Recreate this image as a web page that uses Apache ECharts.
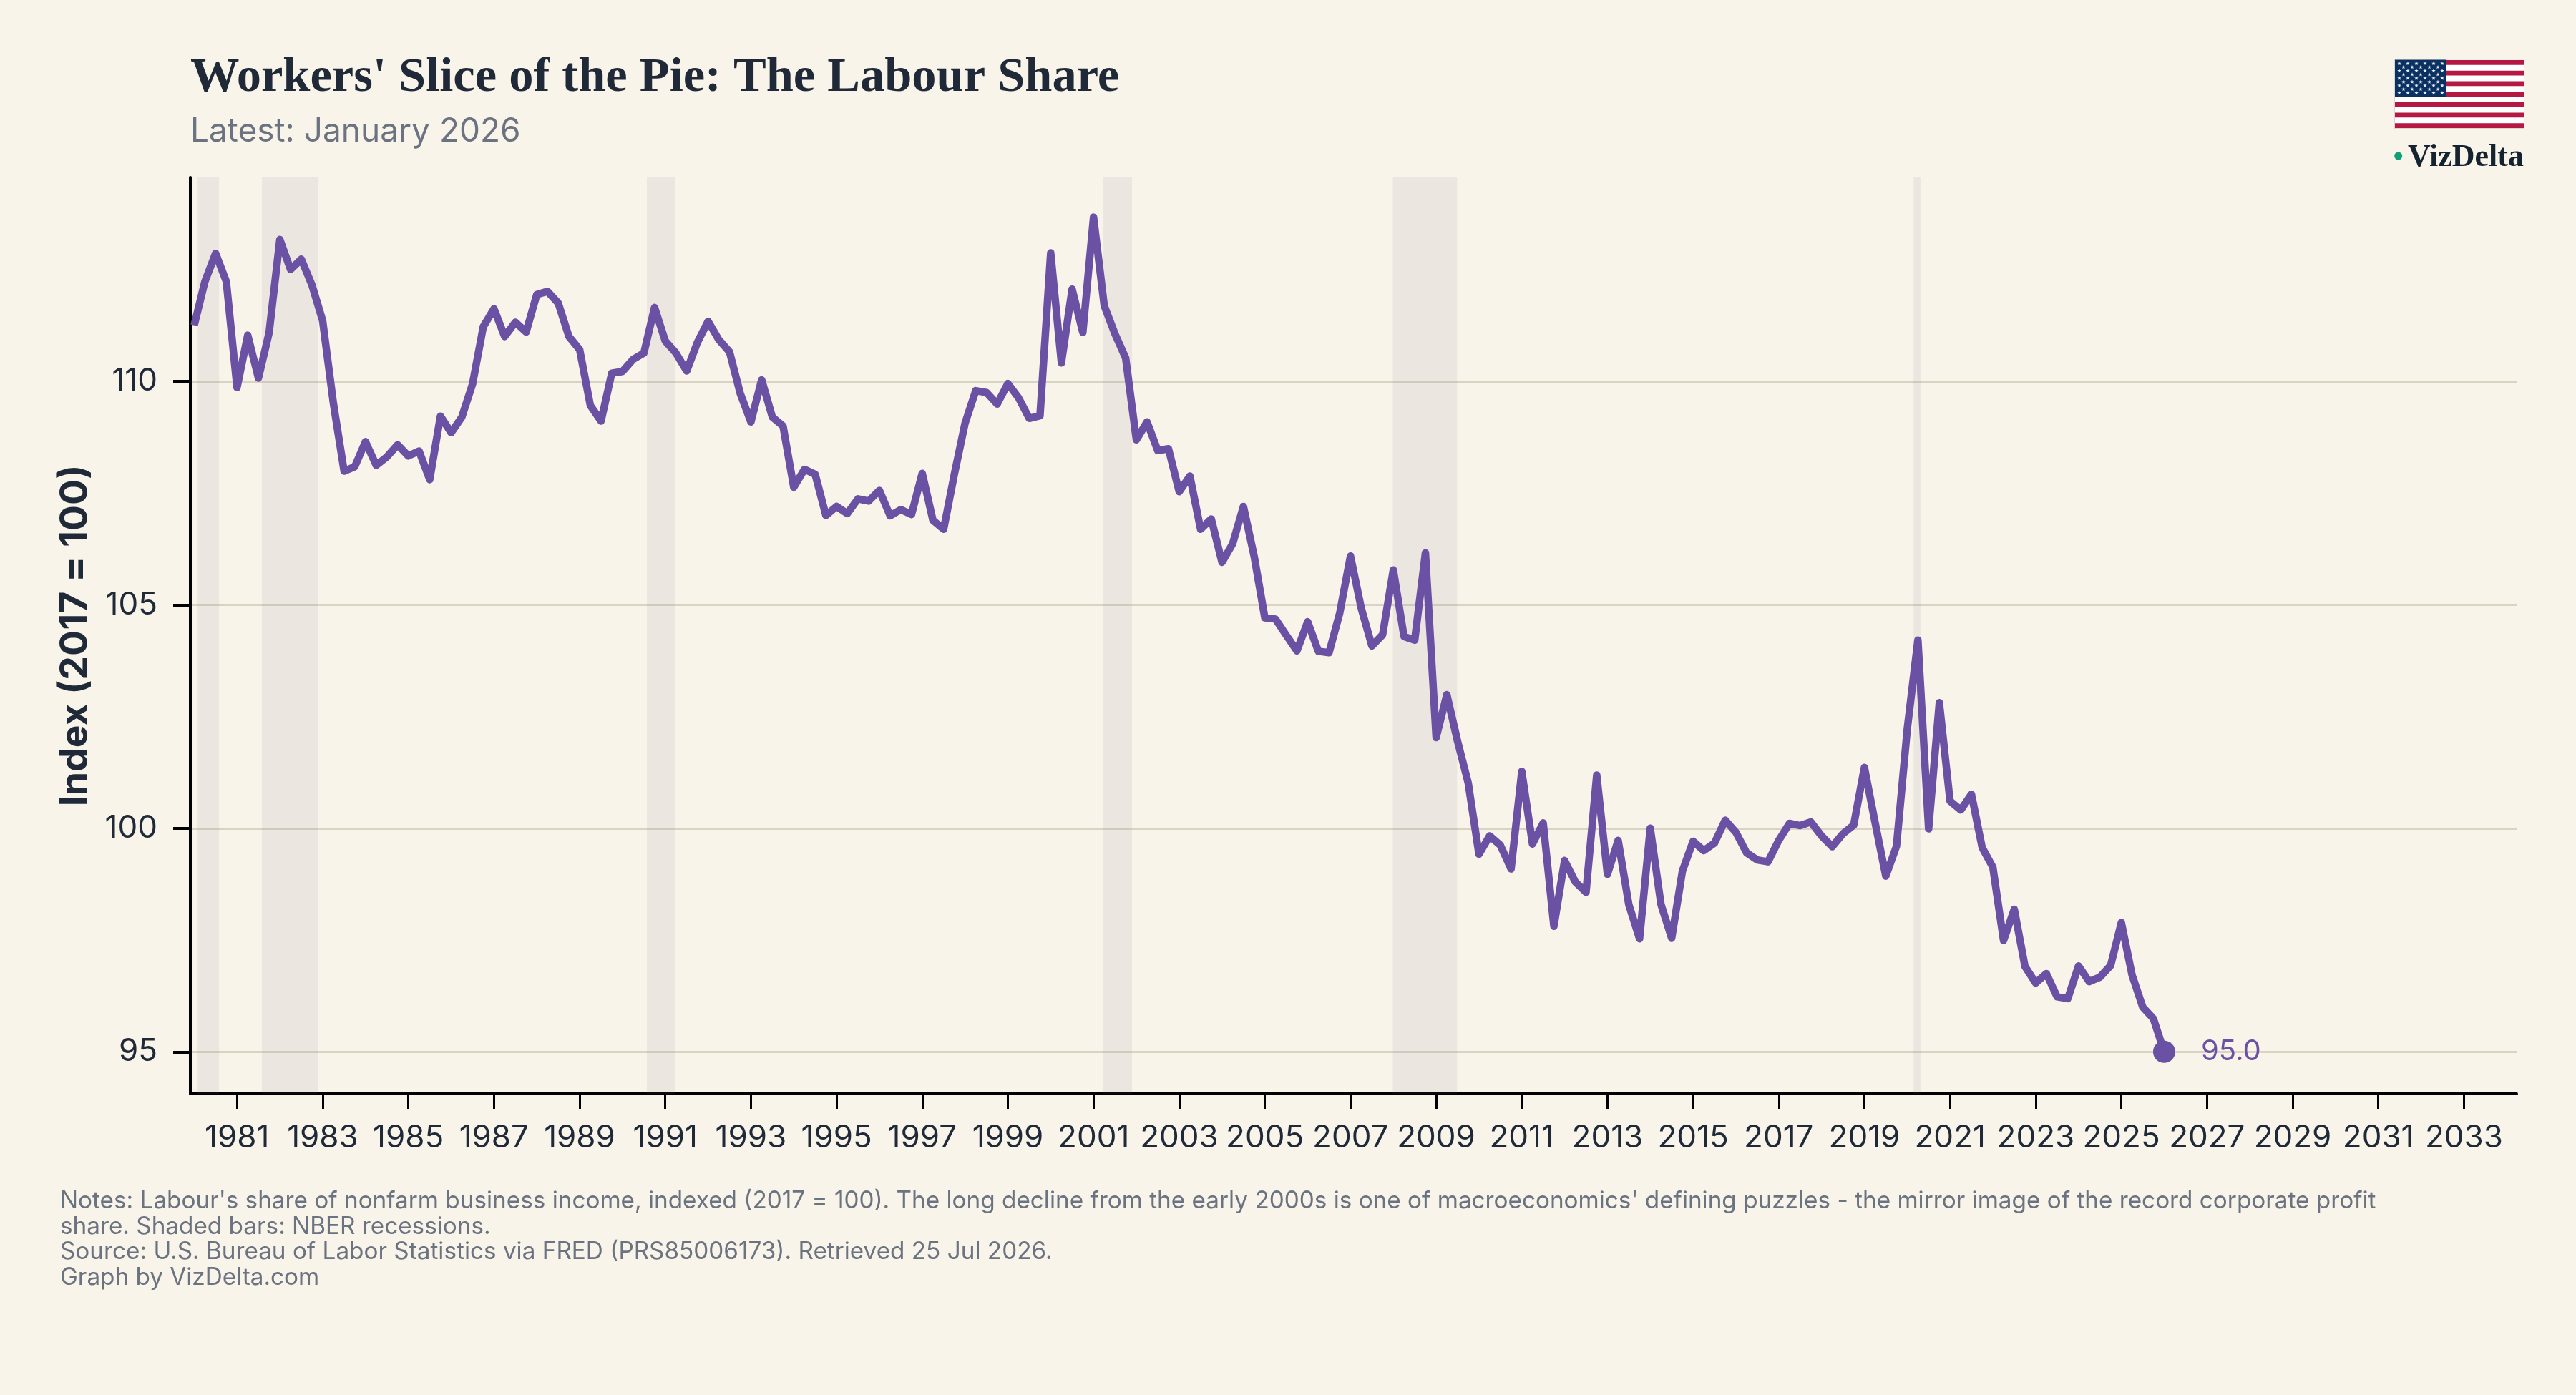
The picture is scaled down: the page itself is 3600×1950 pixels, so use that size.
<!DOCTYPE html>
<html>
<head>
<meta charset="utf-8">
<title>Workers' Slice of the Pie: The Labour Share</title>
<script src="https://cdn.jsdelivr.net/npm/echarts@6/dist/echarts.min.js"></script>
<style>
  html, body { margin: 0; padding: 0; background: #f8f4ea; }
  #chart { width: 3600px; height: 1950px; }
</style>
</head>
<body>
<div id="chart"></div>
<script>
// Nonfarm business labour share, quarterly from 1980 Q1, 2017 = 100
const firstYear = 1980;
const labourShare = [
  111.25, 112.23, 112.86, 112.23, 109.86, 111.03, 110.07, 111.09,
  113.17, 112.50, 112.73, 112.15, 111.35, 109.51, 107.99, 108.09,
  108.65, 108.12, 108.31, 108.58, 108.33, 108.44, 107.80, 109.22,
  108.85, 109.20, 109.94, 111.22, 111.62, 111.00, 111.32, 111.10,
  111.94, 112.01, 111.75, 111.00, 110.71, 109.46, 109.11, 110.18,
  110.22, 110.49, 110.63, 111.65, 110.90, 110.63, 110.23, 110.87,
  111.34, 110.93, 110.66, 109.73, 109.09, 110.03, 109.20, 109.00,
  107.63, 108.03, 107.92, 107.00, 107.20, 107.04, 107.37, 107.32,
  107.56, 106.99, 107.13, 107.02, 107.94, 106.89, 106.69, 107.92,
  109.06, 109.79, 109.75, 109.49, 109.95, 109.63, 109.17, 109.23,
  112.87, 110.41, 112.06, 111.09, 113.67, 111.69, 111.06, 110.52,
  108.69, 109.09, 108.45, 108.49, 107.53, 107.88, 106.69, 106.92,
  105.95, 106.37, 107.20, 106.09, 104.71, 104.68, 104.32, 103.97,
  104.62, 103.96, 103.93, 104.82, 106.09, 104.93, 104.08, 104.33,
  105.78, 104.29, 104.21, 106.16, 102.03, 102.99, 101.95, 101.01,
  99.42, 99.83, 99.62, 99.09, 101.27, 99.65, 100.12, 97.81,
  99.28, 98.80, 98.57, 101.19, 98.97, 99.73, 98.29, 97.53,
  100.00, 98.30, 97.54, 99.04, 99.71, 99.50, 99.67, 100.18,
  99.91, 99.45, 99.29, 99.25, 99.73, 100.11, 100.06, 100.14,
  99.83, 99.59, 99.88, 100.07, 101.36, 100.13, 98.93, 99.60,
  102.21, 104.21, 99.99, 102.81, 100.61, 100.41, 100.76, 99.57,
  99.13, 97.49, 98.19, 96.91, 96.54, 96.75, 96.23, 96.19,
  96.92, 96.57, 96.67, 96.93, 97.89, 96.72, 96.00, 95.74,
  95.00
];

// NBER recession spans, in decimal years
const recessions = [
  [1980.08, 1980.58],
  [1981.58, 1982.89],
  [1990.57, 1991.23],
  [2001.23, 2001.90],
  [2007.99, 2009.49],
  [2020.15, 2020.31]
];

const yearTicks = [
  1981, 1983, 1985, 1987, 1989, 1991, 1993, 1995, 1997, 1999, 2001, 2003, 2005,
  2007, 2009, 2011, 2013, 2015, 2017, 2019, 2021, 2023, 2025, 2027, 2029, 2031, 2033
];
const valueTicks = [95, 100, 105, 110];

const titleText = "Workers' Slice of the Pie: The Labour Share";
const subtitleText = 'Latest: January 2026';
const axisTitle = 'Index (2017 = 100)';
const notesLines = [
  "Notes: Labour's share of nonfarm business income, indexed (2017 = 100). The long decline from the early 2000s is one of macroeconomics' defining puzzles - the mirror image of the record corporate profit",
  'share. Shaded bars: NBER recessions.',
  'Source: U.S. Bureau of Labor Statistics via FRED (PRS85006173). Retrieved 25 Jul 2026.',
  'Graph by VizDelta.com'
];

const PURPLE = '#6a51a3';
const INK = '#1f2937';
const MUTED = '#6b7280';
const SANS = 'Inter';
const SERIF = '"Liberation Serif"';

// Pair each reading with its quarter on the decimal-year axis
const lineData = labourShare.map((v, i) => [firstYear + i / 4, v]);
const latest = lineData[lineData.length - 1];

// Flag mark: thirteen stripes, a canton and a staggered star field
function starPoints(cx, cy, r) {
  const pts = [];
  for (let k = 0; k < 10; k++) {
    const a = -Math.PI / 2 + k * Math.PI / 5;
    const rr = k % 2 ? r * 0.42 : r;
    pts.push([cx + rr * Math.cos(a), cy + rr * Math.sin(a)]);
  }
  return pts;
}

function flagElements(x, y, w, h) {
  const els = [];
  const stripe = h / 13;
  els.push({ type: 'rect', shape: { x: x - 1, y: y - 1, width: w + 2, height: h + 2 }, style: { fill: '#dcd6d2' } });
  els.push({ type: 'rect', shape: { x, y, width: w, height: h }, style: { fill: '#ffffff' } });
  for (let s = 0; s < 13; s += 2) {
    els.push({ type: 'rect', shape: { x, y: y + s * stripe + 0.5, width: w, height: stripe - 0.5 }, style: { fill: '#b31942' } });
  }
  const cw = w * 0.4;
  const ch = stripe * 7;
  els.push({ type: 'rect', shape: { x, y, width: cw, height: ch }, style: { fill: '#0a3161' } });
  for (let row = 0; row < 9; row++) {
    const odd = row % 2 === 1;
    const count = odd ? 5 : 6;
    for (let c = 0; c < count; c++) {
      const sx = x + 6 + (odd ? 6 : 0) + c * 12;
      const sy = y + 5.2 + row * 5.15;
      els.push({ type: 'polygon', shape: { points: starPoints(sx, sy, 2.9) }, style: { fill: '#e8ebf2' } });
    }
  }
  return els;
}

const chart = echarts.init(document.getElementById('chart'), null, { renderer: 'canvas' });

chart.setOption({
  animation: false,
  backgroundColor: '#f8f4ea',
  title: [
    {
      text: titleText,
      left: 266, top: 75, padding: 0,
      textStyle: { fontFamily: SERIF, fontWeight: 'bold', fontSize: 68.5, color: INK }
    },
    {
      text: subtitleText,
      left: 266, top: 161, padding: 0,
      textStyle: { fontFamily: SANS, fontWeight: 'normal', fontSize: 46, color: MUTED }
    },
    {
      text: notesLines.join('\n'),
      left: 84, top: 1661, padding: 0,
      textStyle: { fontFamily: SANS, fontWeight: 'normal', fontSize: 33.3, lineHeight: 35.7, color: MUTED }
    }
  ],
  grid: { left: 266, right: 83, top: 248, height: 1281, containLabel: false },
  xAxis: {
    type: 'value',
    min: 1979.91,
    max: 2034.23,
    axisLine: { show: true, lineStyle: { color: '#000000', width: 4 } },
    axisTick: { show: true, length: 21, customValues: yearTicks, lineStyle: { color: '#000000', width: 3 } },
    axisLabel: {
      show: true, customValues: yearTicks, margin: 40, hideOverlap: false,
      fontFamily: SANS, fontSize: 44, color: INK,
      formatter: v => String(v)
    },
    splitLine: { show: false }
  },
  yAxis: {
    type: 'value',
    min: 94.06,
    max: 114.56,
    name: axisTitle,
    nameLocation: 'middle',
    nameGap: 133,
    nameMoveOverlap: false,
    nameTextStyle: { fontFamily: SANS, fontWeight: 700, fontSize: 53.5, color: INK },
    axisLine: { show: true, lineStyle: { color: '#000000', width: 4 } },
    axisTick: { show: true, length: 24, customValues: valueTicks, lineStyle: { color: '#000000', width: 4 } },
    axisLabel: {
      show: true, customValues: valueTicks, margin: 46,
      fontFamily: SANS, fontSize: 44, color: INK,
      formatter: v => String(v)
    },
    splitLine: { show: true, lineStyle: { color: '#d9d3c4', width: 3 } }
  },
  series: [
    {
      type: 'line',
      data: lineData,
      showSymbol: false,
      symbol: 'none',
      smooth: false,
      clip: false,
      lineStyle: { color: PURPLE, width: 10.5, join: 'round', cap: 'butt' },
      itemStyle: { color: PURPLE },
      z: 3,
      markArea: {
        silent: true,
        itemStyle: { color: 'rgba(110,105,130,0.09)' },
        data: recessions.map(r => [{ xAxis: r[0] }, { xAxis: r[1] }])
      }
    },
    {
      type: 'scatter',
      data: [latest],
      symbol: 'circle',
      symbolSize: 31,
      itemStyle: { color: PURPLE, opacity: 1 },
      z: 4,
      label: {
        show: true,
        position: 'right',
        distance: 36,
        formatter: p => p.value[1].toFixed(1),
        fontFamily: SANS,
        fontSize: 40,
        color: PURPLE
      }
    }
  ],
  graphic: [
    {
      type: 'group',
      silent: true,
      children: flagElements(3347, 83.5, 180, 95.5).concat([
        { type: 'circle', shape: { cx: 3351.7, cy: 218, r: 5.5 }, style: { fill: '#10a075' } },
        {
          type: 'text',
          x: 3527, y: 243,
          style: {
            text: 'VizDelta', align: 'right', verticalAlign: 'bottom',
            font: 'bold 44px "Liberation Serif"', fill: '#14232f'
          }
        }
      ])
    }
  ]
});
</script>
</body>
</html>
